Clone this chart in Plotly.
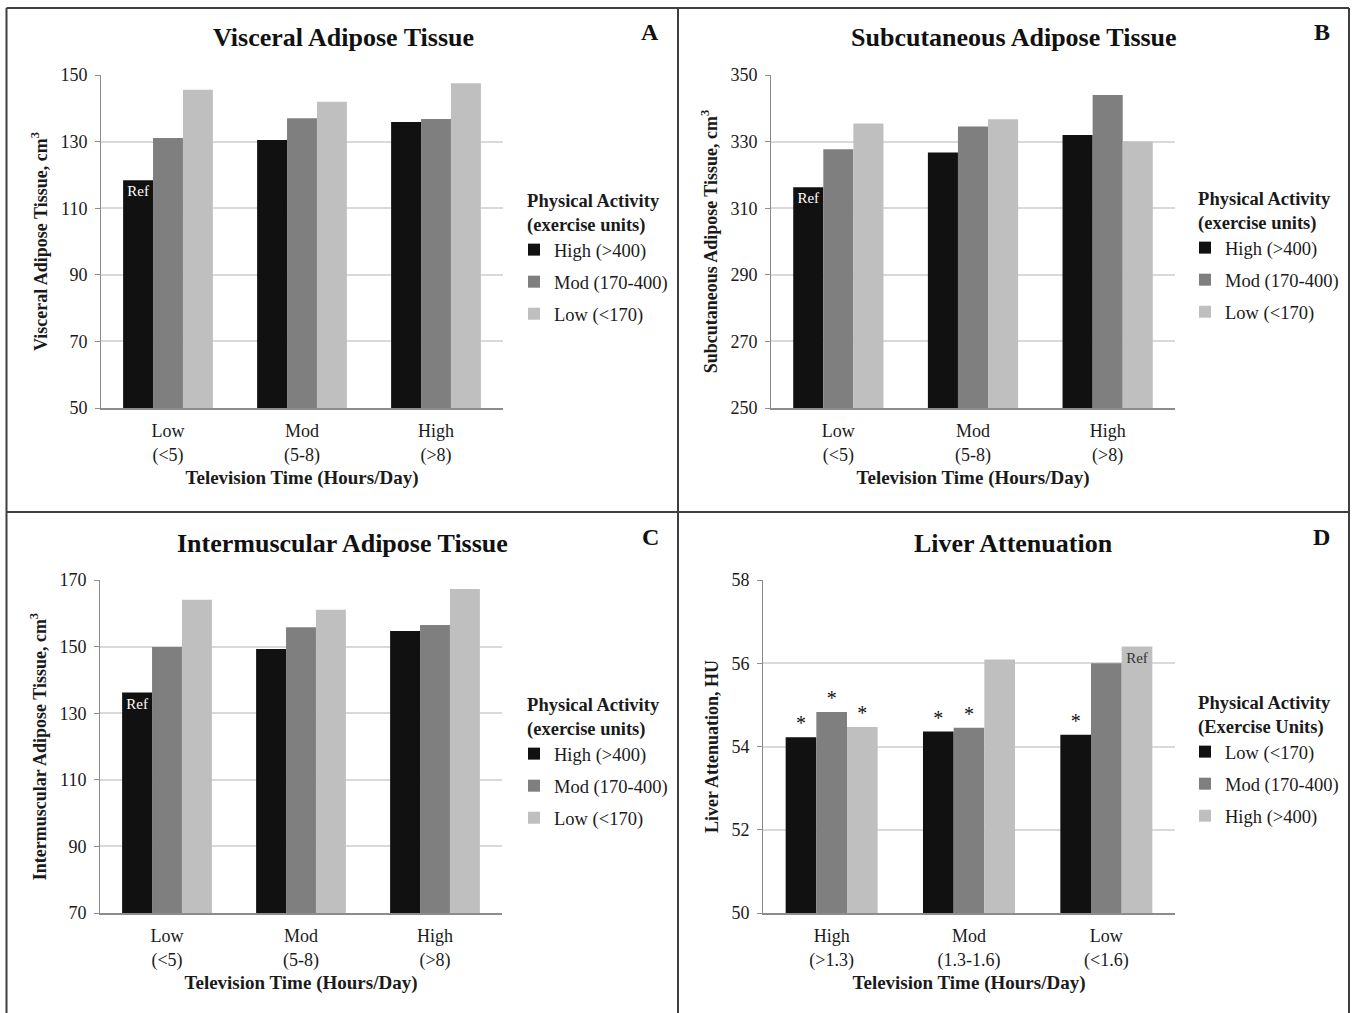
import plotly.graph_objects as go

W, H = 1352, 1013

# ---------------- data ----------------
tv_cats_abc = ["Low<br>(<5)", "Mod<br>(5-8)", "High<br>(>8)"]
tv_cats_d = ["High<br>(>1.3)", "Mod<br>(1.3-1.6)", "Low<br>(<1.6)"]
pa_names_abc = ["High (>400)", "Mod (170-400)", "Low (<170)"]
pa_names_d = ["Low (<170)", "Mod (170-400)", "High (>400)"]

vat_high = [118.4, 130.5, 135.9]
vat_mod = [131.1, 137.0, 136.8]
vat_low = [145.6, 142.0, 147.5]

sat_high = [316.3, 326.7, 332.0]
sat_mod = [327.7, 334.5, 344.0]
sat_low = [335.4, 336.7, 330.0]

imat_high = [136.2, 149.3, 154.7]
imat_mod = [149.9, 155.8, 156.5]
imat_low = [164.1, 161.1, 167.3]

liver_low = [54.22, 54.36, 54.28]
liver_mod = [54.83, 54.45, 56.00]
liver_high = [54.47, 56.09, 56.40]

ref_marks_abc = ["Ref", "", ""]
liver_low_marks = ["*", "*", "*"]
liver_mod_marks = ["*", "*", ""]
liver_high_marks = ["*", "", "Ref"]

panel_titles = ["Visceral Adipose Tissue", "Subcutaneous Adipose Tissue",
                "Intermuscular Adipose Tissue", "Liver Attenuation"]
panel_letters = ["A", "B", "C", "D"]
y_titles = ["Visceral Adipose Tissue, cm<sup>3</sup>",
            "Subcutaneous Adipose Tissue, cm<sup>3</sup>",
            "Intermuscular Adipose Tissue, cm<sup>3</sup>",
            "Liver Attenuation, HU"]
x_title = "Television Time (Hours/Day)"
legend_titles = ["Physical Activity<br>(exercise units)"] * 3 + ["Physical Activity<br>(Exercise Units)"]
y_ranges = [[50, 150], [250, 350], [70, 170], [50, 58]]
y_dticks = [20, 20, 20, 2]

# ---------------- style ----------------
FONT = "Liberation Serif"
C_DARK = "#111111"
C_MID = "#7f7f7f"
C_LIGHT = "#bfbfbf"
GRID = "#d9d9d9"
AXL = "#8c8c8c"
TXT = "#1a1a1a"

def px_x(v):
    return v / W

def px_y(v):
    return 1 - v / H

# plot area pixel boxes (x0, x1, ytop, ybottom)
boxes = [(101, 503, 75, 408), (771, 1175, 75, 408),
         (100, 502, 580, 913), (763, 1175, 580, 913)]
legend_pos = [(514, 183), (1185, 181), (514, 687), (1185, 685)]
title_pos = [(343, 38), (1014, 38), (342, 543), (1013, 543)]
letter_pos = [(650, 32), (1322, 32), (650, 537), (1321, 537)]

fig = go.Figure()

series_sets = [
    (tv_cats_abc, pa_names_abc, [vat_high, vat_mod, vat_low], [ref_marks_abc, None, None]),
    (tv_cats_abc, pa_names_abc, [sat_high, sat_mod, sat_low], [ref_marks_abc, None, None]),
    (tv_cats_abc, pa_names_abc, [imat_high, imat_mod, imat_low], [ref_marks_abc, None, None]),
    (tv_cats_d, pa_names_d, [liver_low, liver_mod, liver_high],
     [liver_low_marks, liver_mod_marks, liver_high_marks]),
]
colors = [C_DARK, C_MID, C_LIGHT]

for p, (cats, names, vals, marks) in enumerate(series_sets):
    xa = "x" if p == 0 else f"x{p+1}"
    ya = "y" if p == 0 else f"y{p+1}"
    lg = "legend" if p == 0 else f"legend{p+1}"
    for s in range(3):
        kw = {}
        m = marks[s]
        if m is not None:
            if p < 3:
                kw = dict(text=m, textposition="inside", insidetextanchor="end",
                          insidetextfont=dict(family=FONT, size=15, color="white"))
            else:
                pos = ["inside" if t == "Ref" else "outside" for t in m]
                kw = dict(text=m, textposition=pos, insidetextanchor="end",
                          insidetextfont=dict(family=FONT, size=15, color="#333333"),
                          outsidetextfont=dict(family=FONT, size=20, color="#111111"),
                          cliponaxis=False)
        fig.add_trace(go.Bar(
            x=cats, y=vals[s], name=names[s], marker=dict(color=colors[s], line=dict(width=0)),
            xaxis=xa, yaxis=ya, legend=lg, legendgroup=f"{p}_{s}",
            textangle=0, constraintext="none", hoverinfo="skip", **kw))

layout = dict(
    width=W, height=H, margin=dict(l=0, r=0, t=0, b=0, autoexpand=False),
    paper_bgcolor="white", plot_bgcolor="white",
    barmode="group", bargap=0.33, bargroupgap=0,
    font=dict(family=FONT, color=TXT),
    showlegend=True,
)

for p in range(4):
    x0, x1, yt, yb = boxes[p]
    xk = "xaxis" if p == 0 else f"xaxis{p+1}"
    yk = "yaxis" if p == 0 else f"yaxis{p+1}"
    yref = "y" if p == 0 else f"y{p+1}"
    xref = "x" if p == 0 else f"x{p+1}"
    layout[xk] = dict(
        domain=[px_x(x0), px_x(x1)], anchor=yref, automargin=False,
        showline=True, linecolor=AXL, linewidth=1.5, ticks="", showgrid=False,
        tickfont=dict(family=FONT, size=18, color=TXT), ticklabelstandoff=6,
        title=dict(text="<b>" + x_title + "</b>", font=dict(family=FONT, size=19, color=TXT),
                   standoff=6),
        fixedrange=True,
    )
    layout[yk] = dict(
        domain=[px_y(yb), px_y(yt)], anchor=xref, automargin=False,
        range=y_ranges[p], dtick=y_dticks[p], tick0=y_ranges[p][0],
        showgrid=True, gridcolor=GRID, gridwidth=1.5, zeroline=False,
        showline=True, linecolor=AXL, linewidth=1,
        ticks="outside", ticklen=5, tickcolor=AXL,
        tickfont=dict(family=FONT, size=18, color=TXT), ticklabelstandoff=4,
        title=dict(text="<b>" + y_titles[p] + "</b>", font=dict(family=FONT, size=18, color=TXT),
                   standoff=8),
        fixedrange=True,
    )
    lk = "legend" if p == 0 else f"legend{p+1}"
    lx, ly = legend_pos[p]
    layout[lk] = dict(
        x=px_x(lx), y=px_y(ly), xanchor="left", yanchor="top",
        xref="paper", yref="paper",
        title=dict(text="<b>" + legend_titles[p] + "</b>", side="top center",
                   font=dict(family=FONT, size=18.5, color=TXT)),
        font=dict(family=FONT, size=18.5, color=TXT),
        bgcolor="rgba(0,0,0,0)", tracegroupgap=5, traceorder="grouped",
    )

annotations = []
for p in range(4):
    tx, ty = title_pos[p]
    annotations.append(dict(text="<b>" + panel_titles[p] + "</b>", x=px_x(tx), y=px_y(ty),
                            xref="paper", yref="paper", showarrow=False,
                            xanchor="center", yanchor="middle",
                            font=dict(family=FONT, size=26, color="#111111")))
    lx_, ly_ = letter_pos[p]
    annotations.append(dict(text="<b>" + panel_letters[p] + "</b>", x=px_x(lx_), y=px_y(ly_),
                            xref="paper", yref="paper", showarrow=False,
                            xanchor="center", yanchor="middle",
                            font=dict(family=FONT, size=24, color="#111111")))
layout["annotations"] = annotations

BORDER = "#3f3f3f"
shapes = [
    dict(type="line", xref="paper", yref="paper", x0=px_x(6.5), x1=px_x(1349), y0=px_y(8), y1=px_y(8),
         line=dict(color=BORDER, width=2)),
    dict(type="line", xref="paper", yref="paper", x0=px_x(6.5), x1=px_x(6.5), y0=px_y(8), y1=0,
         line=dict(color=BORDER, width=2)),
    dict(type="line", xref="paper", yref="paper", x0=px_x(1349), x1=px_x(1349), y0=px_y(8), y1=0,
         line=dict(color=BORDER, width=2)),
    dict(type="line", xref="paper", yref="paper", x0=px_x(678), x1=px_x(678), y0=px_y(8), y1=0,
         line=dict(color=BORDER, width=2)),
    dict(type="line", xref="paper", yref="paper", x0=px_x(6.5), x1=px_x(1349), y0=px_y(512), y1=px_y(512),
         line=dict(color=BORDER, width=2)),
]
layout["shapes"] = shapes

fig.update_layout(**layout)
fig.write_html("out.html", config={"displayModeBar": False},
               post_script="document.body.style.margin='0px';document.body.style.overflow='hidden';")
